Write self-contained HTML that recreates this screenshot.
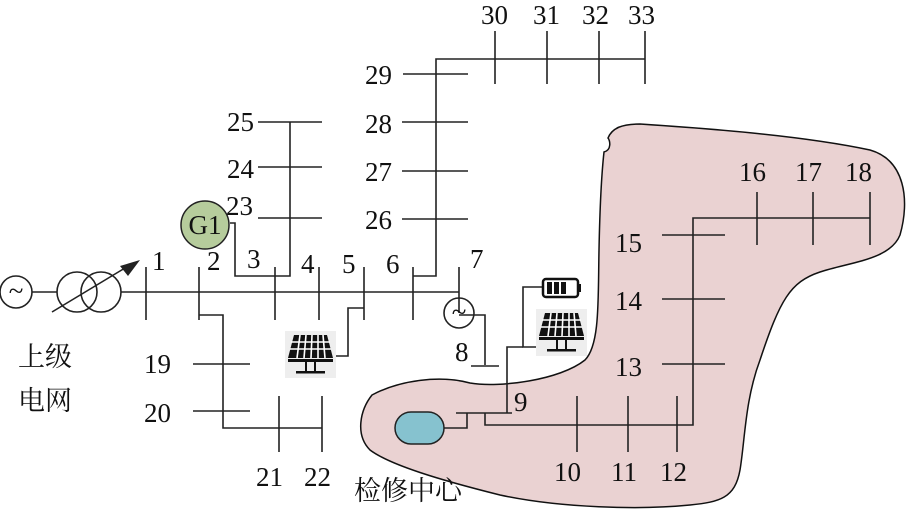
<!DOCTYPE html>
<html><head><meta charset="utf-8"><style>
html,body{margin:0;padding:0;background:#fff;}
svg{display:block;}
text{font-family:"Liberation Serif","Noto Serif CJK SC",serif;font-size:27px;fill:#111;}
.c{font-family:"Liberation Serif","Noto Serif CJK SC","Noto Sans CJK SC",serif;}
</style></head><body>
<svg width="909" height="518" viewBox="0 0 909 518" xmlns="http://www.w3.org/2000/svg">
<defs>
<g id="pv">
<rect x="0" y="0" width="51" height="47" fill="#eeeeee"/>
<path d="M9,4 H42 L48,27 H3 Z" fill="#111"/>
<g stroke="#fff" stroke-width="1.6">
<line x1="6" y1="11" x2="45" y2="11"/><line x1="5" y1="18" x2="46" y2="18"/>
<line x1="15" y1="4" x2="12" y2="27"/><line x1="21" y1="4" x2="19" y2="27"/><line x1="27" y1="4" x2="26" y2="27"/><line x1="33" y1="4" x2="33" y2="27"/><line x1="38" y1="4" x2="40" y2="27"/>
</g>
<rect x="3" y="28" width="45" height="3" fill="#111"/>
<rect x="20" y="31" width="2" height="10" fill="#111"/><rect x="29" y="31" width="2" height="10" fill="#111"/>
<rect x="11" y="40" width="29" height="2.5" fill="#111"/>
</g>
</defs>
<path d="M372,395 C400,380 440,375 470,383 C500,388 560,380 585,360 C600,345 598,300 599,250 C600,200 602,170 604,152 C612,150 610,140 608,138 C612,128 622,124 640,124 C700,128 800,135 870,150 C905,160 910,200 900,235 C890,260 850,262 820,272 C790,282 780,300 760,360 C745,400 745,440 740,470 C735,498 720,502 690,505 C640,510 560,508 500,495 C440,480 390,465 370,450 C355,435 360,410 372,395 Z" fill="#ead2d2" stroke="#111" stroke-width="1.5"/>
<g stroke="#222" stroke-width="1.6" fill="none">
<circle cx="16" cy="292" r="16"/>
<line x1="32" y1="292" x2="57" y2="292"/>
<circle cx="77" cy="292" r="20"/>
<circle cx="101" cy="292" r="20"/>
<line x1="121" y1="292" x2="459" y2="292"/>
<line x1="52" y1="312" x2="125" y2="268"/>
<line x1="146" y1="267" x2="146" y2="320"/>
<line x1="199" y1="267" x2="199" y2="320"/>
<line x1="275" y1="267" x2="275" y2="320"/>
<line x1="319" y1="267" x2="319" y2="320"/>
<line x1="364" y1="267" x2="364" y2="320"/>
<line x1="413" y1="267" x2="413" y2="320"/>
<line x1="459" y1="267" x2="459" y2="313"/>
<polyline points="230,223 235,223 235,276 290,276 290,122"/>
<line x1="258" y1="122" x2="322" y2="122"/>
<line x1="258" y1="167" x2="322" y2="167"/>
<line x1="258" y1="218" x2="322" y2="218"/>
<polyline points="413,276 436,276 436,59 645,59"/>
<line x1="402" y1="219" x2="468" y2="219"/>
<line x1="402" y1="171" x2="468" y2="171"/>
<line x1="402" y1="122" x2="468" y2="122"/>
<line x1="403" y1="74" x2="468" y2="74"/>
<line x1="495" y1="31" x2="495" y2="84"/>
<line x1="547" y1="31" x2="547" y2="84"/>
<line x1="599" y1="31" x2="599" y2="84"/>
<line x1="645" y1="31" x2="645" y2="84"/>
<polyline points="199,315 223,315 223,428 322,428"/>
<line x1="193" y1="364" x2="250" y2="364"/>
<line x1="193" y1="411" x2="250" y2="411"/>
<line x1="279" y1="396" x2="279" y2="452"/>
<line x1="322" y1="396" x2="322" y2="452"/>
<polyline points="336,356 348,356 348,308 364,308"/>
<circle cx="459" cy="313" r="15"/>
<polyline points="459,315 485,315 485,365"/>
<line x1="471" y1="366" x2="499" y2="366"/>
<polyline points="542,287 523,287 523,347 536,347"/>
<polyline points="523,347 507,347 507,413"/>
<line x1="456" y1="413" x2="512" y2="413"/>
<polyline points="444,428 467,428 467,413"/>
<polyline points="485,413 485,425 693,425 693,218 870,218"/>
<line x1="577" y1="396" x2="577" y2="452"/>
<line x1="628" y1="396" x2="628" y2="452"/>
<line x1="677" y1="396" x2="677" y2="452"/>
<line x1="662" y1="364" x2="725" y2="364"/>
<line x1="662" y1="299" x2="725" y2="299"/>
<line x1="662" y1="235" x2="725" y2="235"/>
<line x1="757" y1="192" x2="757" y2="245"/>
<line x1="813" y1="192" x2="813" y2="245"/>
<line x1="870" y1="192" x2="870" y2="245"/>
</g>
<path d="M140,260 L120,266 L128,276 Z" fill="#222"/>
<text x="16" y="300" font-size="22" text-anchor="middle">~</text>
<text x="459" y="321" font-size="22" text-anchor="middle">~</text>
<circle cx="205" cy="225" r="24" fill="#b6cc9c" stroke="#222" stroke-width="1.5"/>
<text x="205" y="234" text-anchor="middle">G1</text>
<rect x="395" y="412" width="49" height="32" rx="16" fill="#86c2cf" stroke="#222" stroke-width="1.5"/>
<rect x="543" y="279" width="35" height="18" rx="3" fill="#fff" stroke="#111" stroke-width="2.5"/>
<rect x="578" y="284" width="3" height="8" fill="#111"/>
<rect x="547" y="282" width="5" height="12" fill="#111"/><rect x="554" y="282" width="5" height="12" fill="#111"/><rect x="561" y="282" width="5" height="12" fill="#111"/>
<use href="#pv" x="285" y="331"/>
<use href="#pv" x="536" y="309"/>
<text x="152" y="270">1</text>
<text x="207" y="270">2</text>
<text x="247" y="268">3</text>
<text x="301" y="273">4</text>
<text x="342" y="273">5</text>
<text x="386" y="273">6</text>
<text x="470" y="268">7</text>
<text x="455" y="361">8</text>
<text x="514" y="411">9</text>
<text x="554" y="481">10</text>
<text x="611" y="481">11</text>
<text x="660" y="481">12</text>
<text x="615" y="376">13</text>
<text x="615" y="310">14</text>
<text x="615" y="252">15</text>
<text x="739" y="181">16</text>
<text x="795" y="181">17</text>
<text x="845" y="181">18</text>
<text x="144" y="373">19</text>
<text x="144" y="422">20</text>
<text x="256" y="486">21</text>
<text x="304" y="486">22</text>
<text x="226" y="215">23</text>
<text x="227" y="178">24</text>
<text x="227" y="131">25</text>
<text x="365" y="229">26</text>
<text x="365" y="181">27</text>
<text x="365" y="133">28</text>
<text x="365" y="84">29</text>
<text x="481" y="24">30</text>
<text x="533" y="24">31</text>
<text x="582" y="24">32</text>
<text x="628" y="24">33</text>
<text class="c" x="18" y="366" font-size="25">上级</text>
<text class="c" x="18" y="410" font-size="25">电网</text>
<text class="c" x="354" y="500" font-size="25">检修中心</text>
</svg>
</body></html>
